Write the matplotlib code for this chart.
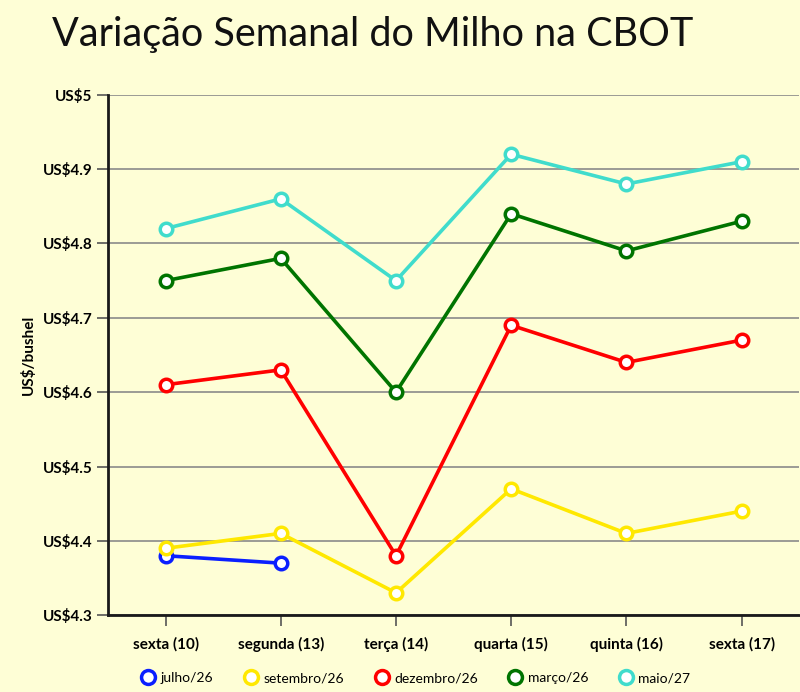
import matplotlib
matplotlib.use("Agg")
import matplotlib.pyplot as plt
from matplotlib.ticker import FuncFormatter

categories = ["sexta (10)", "segunda (13)", "terça (14)", "quarta (15)", "quinta (16)", "sexta (17)"]
julho26 = [4.38, 4.37]
setembro26 = [4.39, 4.41, 4.33, 4.47, 4.41, 4.44]
dezembro26 = [4.61, 4.63, 4.38, 4.69, 4.64, 4.67]
marco26 = [4.75, 4.78, 4.60, 4.84, 4.79, 4.83]
maio27 = [4.82, 4.86, 4.75, 4.92, 4.88, 4.91]
series_names = ["julho/26", "setembro/26", "dezembro/26", "março/26", "maio/27"]
colors = ["#0a1fff", "#ffe800", "#ff0000", "#007400", "#40dccc"]
yticks = [4.3, 4.4, 4.5, 4.6, 4.7, 4.8, 4.9, 5.0]

plt.rcParams['font.family'] = ['Lato', 'DejaVu Sans']
bg = "#fefed6"
fig = plt.figure(figsize=(8, 6.92), dpi=100, facecolor=bg)
ax = fig.add_axes([0.135, 0.111, 0.864, 0.752], facecolor=bg)

x = list(range(len(categories)))
all_series = [julho26, setembro26, dezembro26, marco26, maio27]
for name, vals, c in zip(series_names, all_series, colors):
    ax.plot(x[:len(vals)], vals, color=c, lw=2.6, marker='o', ms=9,
            mfc='white', mec=c, mew=2.5, label=name, zorder=3)

ax.set_xlim(-0.5, 5.5)
ax.set_ylim(4.3, 5.0)
ax.set_yticks(yticks)
ax.yaxis.set_major_formatter(FuncFormatter(lambda v, p: "US$5" if abs(v-5) < 1e-9 else f"US${v:.1f}"))
ax.set_xticks(x)
ax.set_xticklabels(categories)
ax.grid(axis='y', color='#8a8a8a', lw=1.2, zorder=0)
for s in ['top', 'right']:
    ax.spines[s].set_visible(False)
for s in ['left', 'bottom']:
    ax.spines[s].set_color('#1a1a1a')
    ax.spines[s].set_linewidth(2)
ax.tick_params(axis='y', length=8, width=1.2, color='#555555', pad=3, labelsize=11)
ax.tick_params(axis='x', length=8, width=1.2, color='#555555', pad=8, labelsize=11)
for lab in ax.get_xticklabels() + ax.get_yticklabels():
    lab.set_fontweight('bold')
ax.set_ylabel("US$/bushel", fontsize=11, fontweight='bold', labelpad=5)

fig.text(0.065, 0.950, "Variação Semanal do Milho na CBOT", fontsize=28.5, ha='left', va='center', color='#111111')

leg = fig.legend(loc='center', bbox_to_anchor=(0.52, 0.02), ncol=5, frameon=False,
                 fontsize=10, handlelength=1.0, handletextpad=0.4, columnspacing=2.2)
for h in leg.legend_handles:
    h.set_linestyle('')
    h.set_markersize(10)

fig.savefig("out.png", dpi=100, facecolor=bg)
